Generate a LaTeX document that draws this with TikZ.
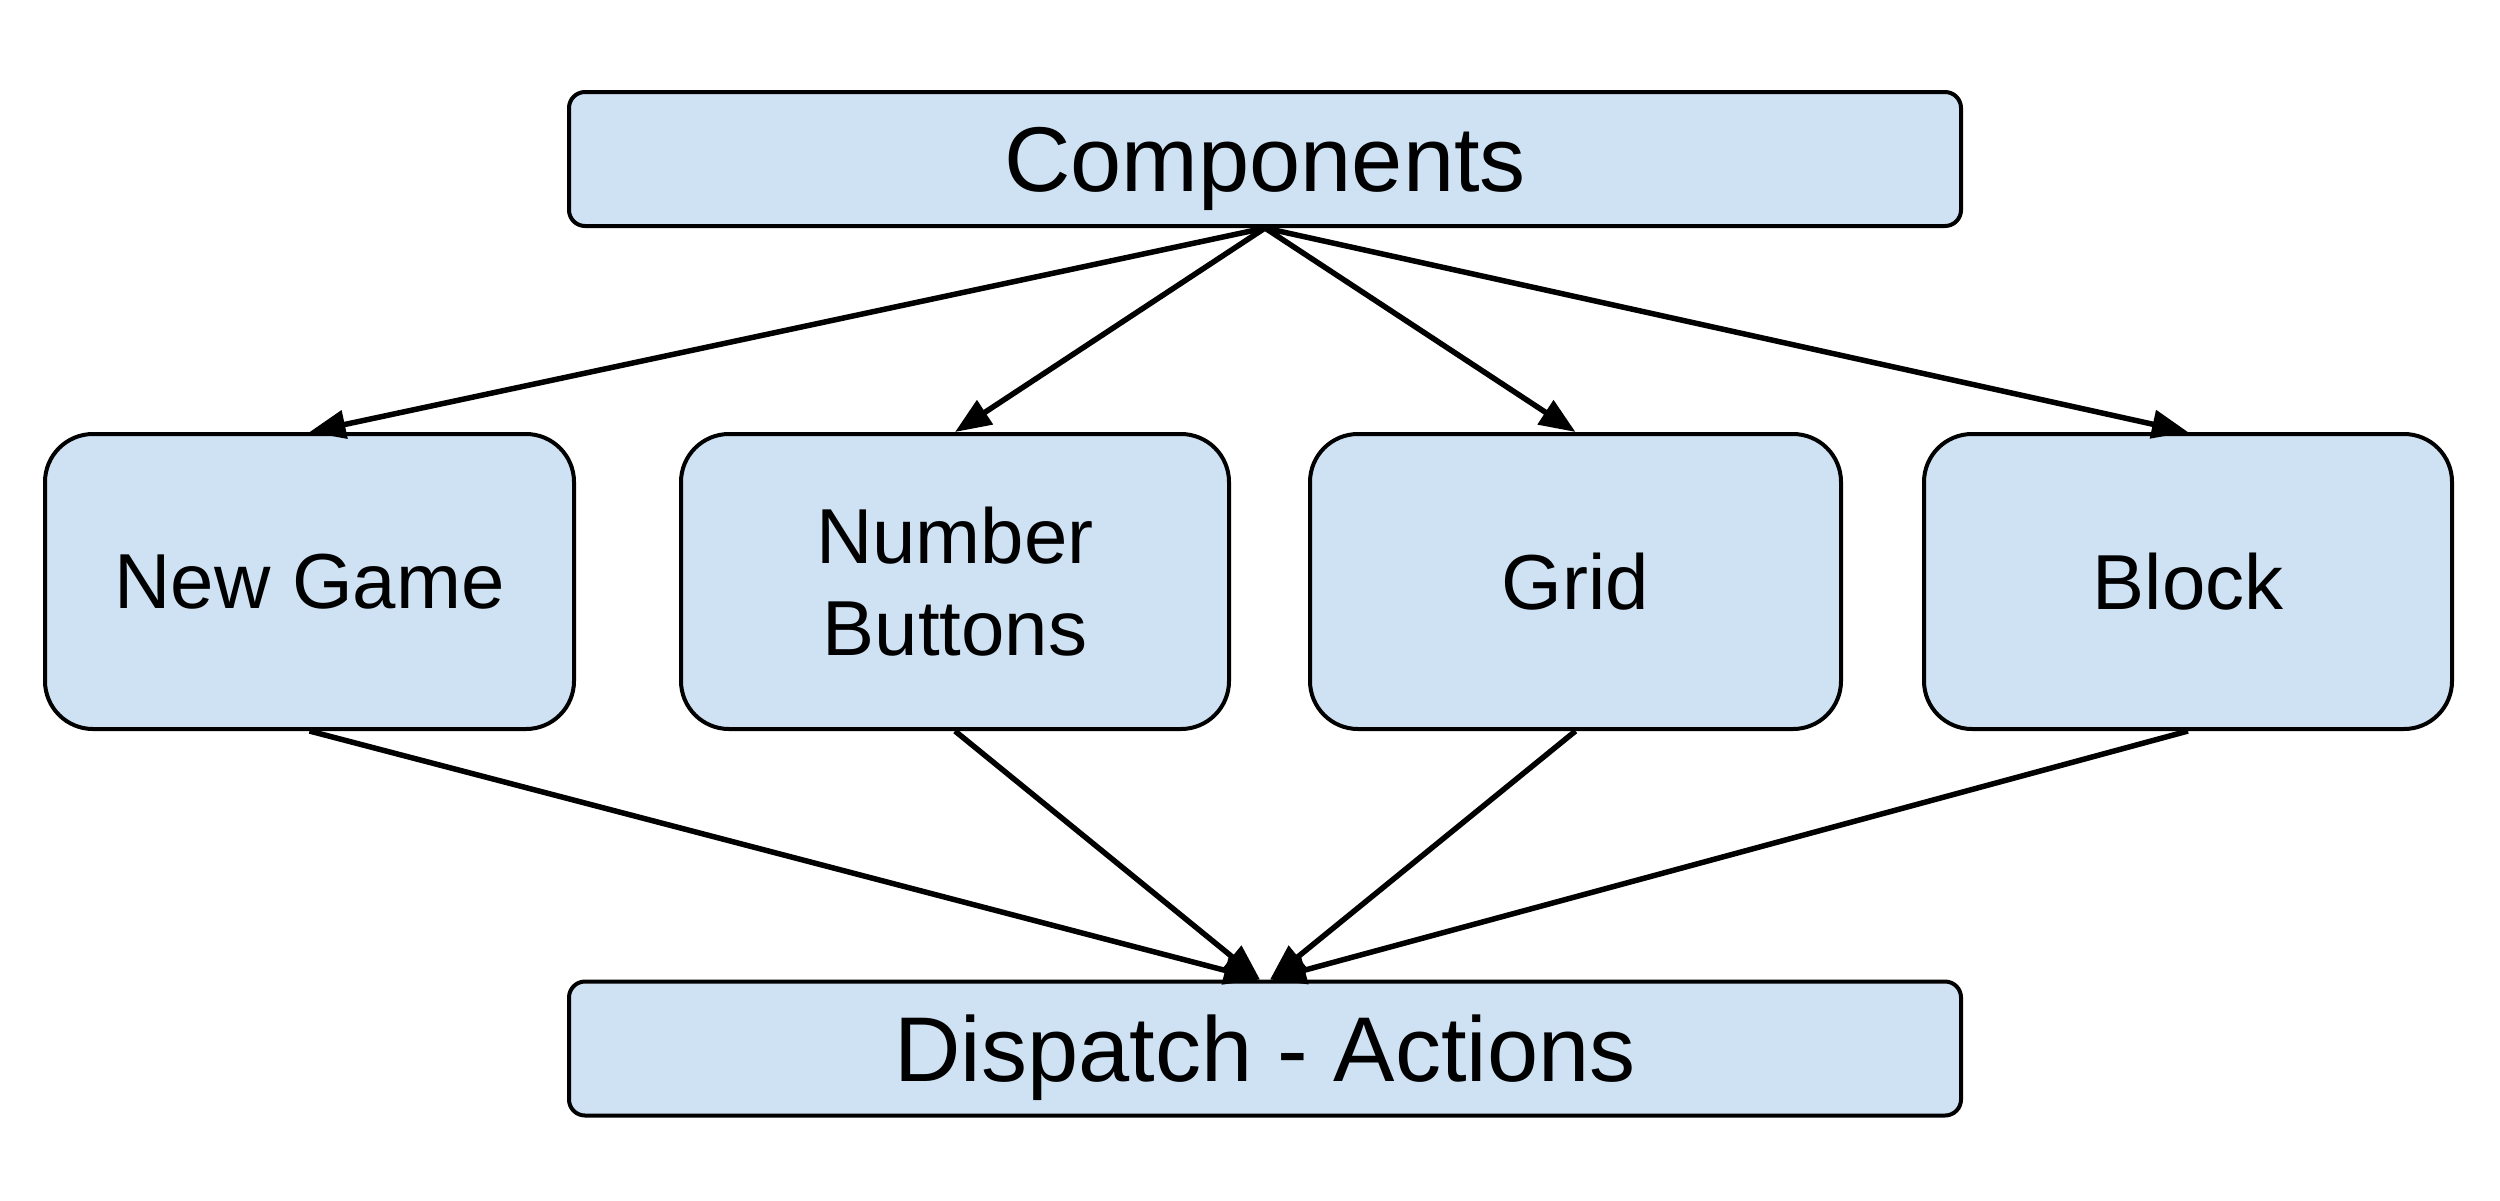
\documentclass[tikz,border=0pt]{standalone}
\usepackage{fontspec}
\setmainfont{Liberation Sans}
\usetikzlibrary{arrows.meta}
\definecolor{boxfill}{HTML}{CFE2F3}
\tikzset{
  base/.style={draw=black, fill=boxfill, line width=4pt, inner sep=0pt, text depth=0pt, align=center},
  widebox/.style={base, rounded corners=16pt, minimum height=134pt, minimum width=1392pt, font=\fontsize{92}{110}\selectfont},
  compbox/.style={base, rounded corners=48pt, minimum height=295pt, font=\fontsize{78}{92}\selectfont},
  conn/.style={line width=5.5pt, -{Triangle[length=36pt,width=28pt]}}
}
\begin{document}
\begin{tikzpicture}[x=1pt,y=-1pt]
\useasboundingbox (0,0) rectangle (2500,1200);
\fill[white] (0,0) rectangle (2500,1200);
\node[widebox] (comp) at (1265,159) {Components};
\node[compbox, minimum width=529pt] (ng) at (309.5,581.5) {New Game};
\node[compbox, minimum width=548pt] (nb) at (955,581.5) {Number\\Buttons};
\node[compbox, minimum width=531pt] (grid) at (1575.5,581.5) {Grid};
\node[compbox, minimum width=528pt] (block) at (2188,581.5) {Block};
\node[widebox] (disp) at (1265,1048.5) {Dispatch - Actions};
\coordinate (dl) at ([xshift=-5pt]disp.north);
\coordinate (dr) at ([xshift=5pt]disp.north);
\draw[conn] (comp.south) -- (ng.north);
\draw[conn] (comp.south) -- (nb.north);
\draw[conn] (comp.south) -- (grid.north);
\draw[conn] (comp.south) -- (block.north);
\draw[conn] (ng.south) -- (dl);
\draw[conn] (nb.south) -- (dl);
\draw[conn] (grid.south) -- (dr);
\draw[conn] (block.south) -- (dr);
\end{tikzpicture}
\end{document}
